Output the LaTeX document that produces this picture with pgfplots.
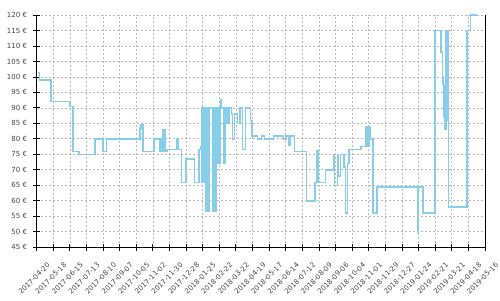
\documentclass[border=0pt]{standalone}
\usepackage{fontspec}
\setmainfont{DejaVu Sans}
\usepackage{pgfplots}
\pgfplotsset{compat=1.18}
\definecolor{sky}{RGB}{135,206,235}
\definecolor{gridc}{RGB}{185,185,185}
\definecolor{lab}{RGB}{70,70,70}
\pgfplotstableread{
x y
3 101.5
5 99
24 92
56 90.5
61 76
71 75
98 80
112 76
118 80
174 83.5
176 84.5
179 76
198 80
208 76
208.7 80
209.4 76
210.1 80
210.8 76
211.5 80
212.2 76
213 83
216.5 76
220 76.5
237 80
238.7 76.5
244 66
251.7 73.5
265.7 66
274 76.5
276.5 77.5
278 90
278.7 66
279.4 90
280.1 66
280.8 90
281.5 66
282.2 90
282.9 66
283.6 90
284.3 56.5
285 90
285.7 56.5
286.4 90
287.1 56.5
287.8 90
288.5 56.5
289.2 90
289.9 56.5
290.6 90
297.3 56.5
298 90
298.7 56.5
299.4 90
300.1 56.5
300.8 90
301.5 56.5
302.2 90
306 72
306.7 90
307.4 72
308.1 90
308.8 72
309.6 92.5
311.5 90
314.6 72
315.3 90
316 72
316.7 90
317.4 72
318.1 90
320.3 85
321 90
321.7 85
322.4 90
323.1 85
323.8 90
324.5 85
325.2 90
328.5 88
330.4 80
333.5 88
338.5 85
343 90
346.7 76.5
352.5 90
360.5 86
363 81
372 80
378.7 81
384.4 80
399 81
416 80
420 81
425.4 77.8
428.2 81
435 76
454.6 60
469.2 66
472 76.2
474.3 66
487.3 70
501 75
502.5 65
507 75
509 68
512.5 75
518.6 71
520.5 56
524.5 72
526.5 76.5
547 77.5
555.7 84
556.4 77.5
557.1 84
557.8 77.5
558.5 84
559.2 77.5
559.9 84
560.6 77.5
561.3 84
562 80
567 56
573.8 64.5
642.3 50
643.4 64.5
651.8 56
671.5 115
681.6 108
683.9 100
685.5 97.5
686.7 87
688.4 83
690.5 115
692 86
693 115
694.5 58
726 115
731.7 120
743 120
}\pricedata
\begin{document}
\begin{tikzpicture}[x=1pt,y=1pt]
\path[use as bounding box] (0,0) rectangle (500,300);
\begin{axis}[
  at={(36.7pt,52.7pt)}, anchor=south west,
  width=448.3pt, height=232.3pt, scale only axis,
  xmin=0, xmax=756, ymin=45, ymax=120,
  axis x line*=bottom, axis y line*=left,
  xtick={0,28,...,756},
  xticklabels={2017-04-20,2017-05-18,2017-06-15,2017-07-13,2017-08-10,2017-09-07,2017-10-05,2017-11-02,2017-11-30,2017-12-28,2018-01-25,2018-02-22,2018-03-22,2018-04-19,2018-05-17,2018-06-14,2018-07-12,2018-08-09,2018-09-06,2018-10-04,2018-11-01,2018-11-29,2018-12-27,2019-01-24,2019-02-21,2019-03-21,2019-04-18,2019-05-16},
  ytick={45,50,...,120},
  yticklabels={45 €,50 €,55 €,60 €,65 €,70 €,75 €,80 €,85 €,90 €,95 €,100 €,105 €,110 €,115 €,120 €},
  grid=major,
  major grid style={gridc, dash pattern=on 2pt off 2pt, line width=0.8pt},
  tick align=center, major tick length=7pt,
  tick style={black, line width=0.9pt},
  axis line style={black, line width=0.9pt},
  tick label style={font=\fontsize{7}{8}\selectfont, text=lab},
  x tick label style={xshift=12pt, yshift=-13pt, rotate=45, anchor=east, inner sep=0pt},
  y tick label style={anchor=east, inner sep=0pt, xshift=-6pt},
  clip=false,
]
\addplot[const plot, sky, line width=1.5pt, line join=miter] table[x=x,y=y] {\pricedata};
\draw[black, line width=0.9pt] (rel axis cs:1,0) -- (rel axis cs:1,1);
\end{axis}
\end{tikzpicture}
\end{document}
